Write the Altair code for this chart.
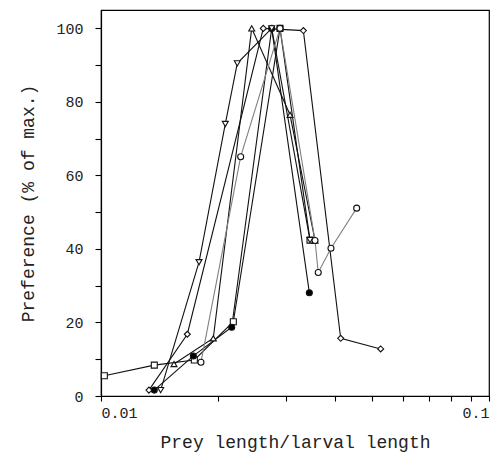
import altair as alt
import pandas as pd

# ---- data ----
sq_x = [0.0102, 0.01372, 0.0174, 0.02193, 0.02893, 0.03457]
sq_y = [5.5, 8.4, 9.8, 20.2, 100, 42.4]

fc_x = [0.01372, 0.0173, 0.02172, 0.02754, 0.03443]
fc_y = [1.6, 10.9, 18.7, 100, 28.1]

tu_x = [0.01542, 0.01947, 0.02446, 0.0307, 0.03561]
tu_y = [8.7, 15.7, 100, 76.5, 42.3]

td_x = [0.01425, 0.01789, 0.02091, 0.02245, 0.02754, 0.03457]
td_y = [1.6, 36.4, 74.0, 90.5, 100, 42.4]

dm_x = [0.01329, 0.01669, 0.0262, 0.03323, 0.04147, 0.05258]
dm_y = [1.6, 16.8, 100, 99.4, 15.7, 12.8]

oc_x = [0.0181, 0.02291, 0.02893, 0.03561, 0.0363, 0.03915, 0.0456]
oc_y = [9.2, 65.1, 100, 42.3, 33.6, 40.2, 51.1]

series_names = ["sq", "fc", "tu", "td", "dm", "oc"]
series_shapes = ["square", "circle", "triangle-up", "triangle-down", "diamond", "circle"]
series_fills = ["white", "black", "white", "white", "white", "white"]
series_lines = ["#111111", "#111111", "#111111", "#111111", "#111111", "#808080"]

x_ticks = [0.01, 0.02, 0.03, 0.04, 0.05, 0.06, 0.07, 0.08, 0.09, 0.1]
y_ticks = [0, 10, 20, 30, 40, 50, 60, 70, 80, 90, 100]

rows = []
for name, xs, ys in [("sq", sq_x, sq_y), ("fc", fc_x, fc_y), ("tu", tu_x, tu_y),
                     ("td", td_x, td_y), ("dm", dm_x, dm_y), ("oc", oc_x, oc_y)]:
    for i, (a, b) in enumerate(zip(xs, ys)):
        rows.append({"x": a, "y": b, "series": name, "i": i})
df = pd.DataFrame(rows)

FONT = "Liberation Mono"

x_enc = alt.X("x:Q",
              scale=alt.Scale(type="log", domain=[0.01, 0.1], nice=False),
              axis=alt.Axis(values=x_ticks,
                            labelExpr="abs(datum.value-0.01)<1e-9 ? '0.01' : (abs(datum.value-0.1)<1e-9 ? '0.1' : '')",
                            labelOverlap=False, grid=False, tickSize=5,
                            labelPadding=4, titlePadding=13,
                            title="Prey length/larval length"))
y_enc = alt.Y("y:Q",
              scale=alt.Scale(domain=[0, 105], nice=False),
              axis=alt.Axis(values=y_ticks,
                            labelExpr="datum.value % 20 == 0 ? datum.value : ''",
                            labelOverlap=False, grid=False, tickSize=6,
                            labelPadding=12, titlePadding=18,
                            title="Preference (% of max.)"))

color_scale = alt.Scale(domain=series_names, range=series_lines)

lines = alt.Chart(df).mark_line(strokeWidth=1.1, clip=True).encode(
    x=x_enc, y=y_enc,
    color=alt.Color("series:N", scale=color_scale, legend=None),
    detail="series:N",
    order="i:Q",
)

points = alt.Chart(df).mark_point(size=36, strokeWidth=1.1, filled=False, opacity=1).encode(
    x=x_enc, y=y_enc,
    shape=alt.Shape("series:N", scale=alt.Scale(domain=series_names, range=series_shapes), legend=None),
    fill=alt.Fill("series:N", scale=alt.Scale(domain=series_names, range=series_fills), legend=None),
    stroke=alt.value("#111111"),
)

chart = alt.layer(lines, points).resolve_scale(color="independent").properties(
    width=388, height=386,
    padding={"left": 93, "top": 2, "right": 6, "bottom": 57},
    autosize=alt.AutoSizeParams(type="none"),
).configure_view(stroke="black", strokeWidth=1.2).configure_axis(
    domainColor="black", tickColor="black", labelColor="#222222", titleColor="#222222",
    labelFont=FONT, titleFont=FONT, labelFontSize=15, titleFontSize=18,
    titleFontWeight="normal", domainWidth=1.2, tickWidth=1.1,
)

chart.save("out.html", embed_options={"renderer": "svg", "actions": False})
